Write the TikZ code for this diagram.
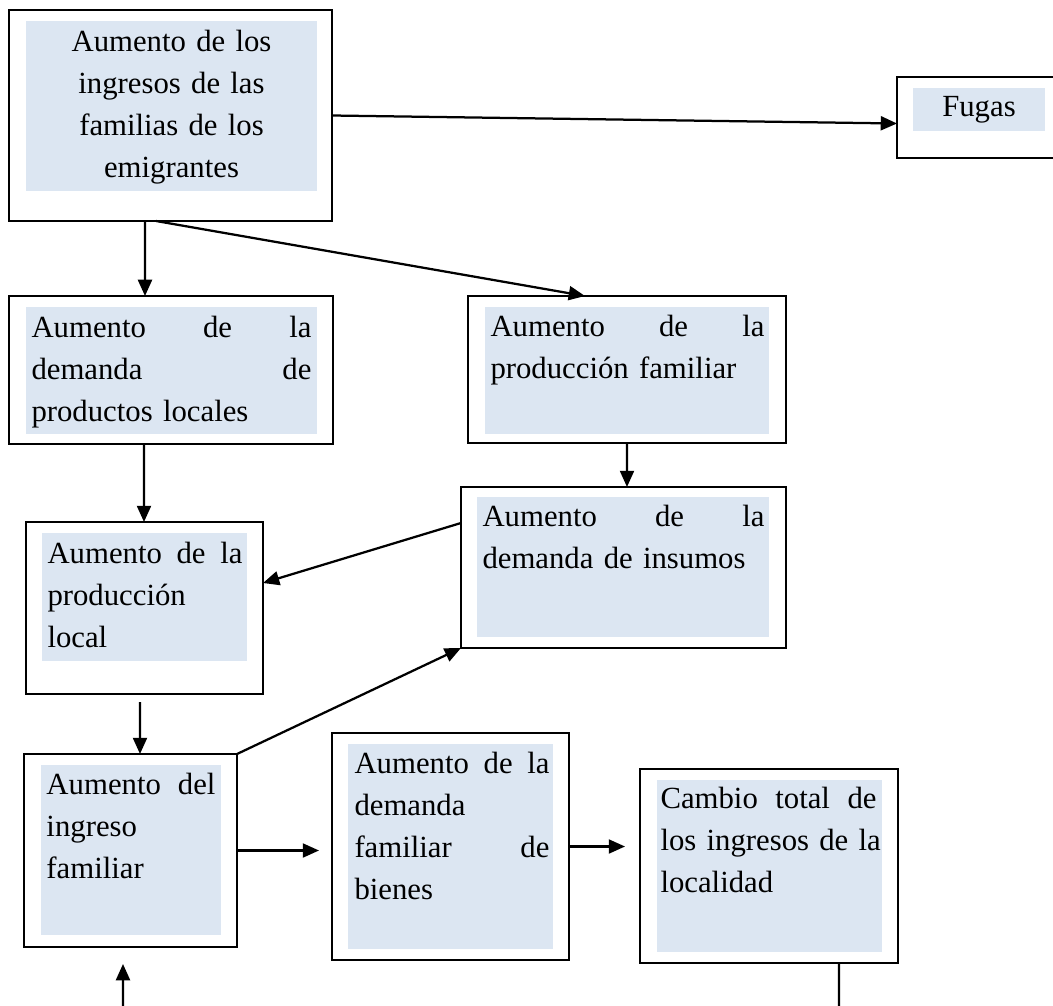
\documentclass[tikz,border=0pt]{standalone}
\usepackage{fontspec}
\setmainfont{Liberation Serif}
\usepackage{tikz}
\usetikzlibrary{calc, arrows.meta}
\definecolor{fondoazul}{HTML}{DCE6F2}

\begin{document}
\begin{tikzpicture}[
  x=0.4pt, y=-0.4pt,
  caja/.style={draw, line width=1pt, inner sep=0pt, outer sep=0pt},
  fondo/.style={fill=fondoazul},
  texto/.style={anchor=north west, inner sep=0pt, align=left, font=\fontsize{12.3}{16.8}\selectfont},
  flecha/.style={-{Triangle[length=6.5pt, width=5.6pt]}, line width=0.9pt},
  linea/.style={line width=0.9pt}
]
\useasboundingbox (0,0) rectangle (1053,1006);

% fondos azules
\fill[fondo] (26,21) rectangle (317,191);
\fill[fondo] (913,88) rectangle (1045,131);
\fill[fondo] (26,307) rectangle (317,434);
\fill[fondo] (485,307) rectangle (769,434);
\fill[fondo] (477,497) rectangle (769,637);
\fill[fondo] (42,533) rectangle (247,661);
\fill[fondo] (41,765) rectangle (221,935);
\fill[fondo] (348,744) rectangle (553,949);
\fill[fondo] (657,780) rectangle (882,952);

% cajas
\node[caja, minimum width=129.2pt, minimum height=84.4pt] (ingresos) at (170.5,115.5) {};
\node[caja, minimum width=71.2pt, minimum height=32.4pt] (fugas) at (986,117.5) {};
\node[caja, minimum width=129.6pt, minimum height=59.2pt] (demloc) at (171,370) {};
\node[caja, minimum width=127.2pt, minimum height=58.8pt] (prodfam) at (627,369.5) {};
\node[caja, minimum width=130pt, minimum height=64.4pt] (insumos) at (623.5,567.5) {};
\node[caja, minimum width=94.8pt, minimum height=68.8pt] (prodloc) at (144.5,608) {};
\node[caja, minimum width=85.2pt, minimum height=77.2pt] (ingfam) at (130.5,850.5) {};
\node[caja, minimum width=94.8pt, minimum height=90.8pt] (bienes) at (450.5,846.5) {};
\node[caja, minimum width=103.2pt, minimum height=77.6pt] (total) at (769,866) {};

% textos
\node[texto, anchor=north, align=center, text width=112pt] (t-ingresos) at (171.5,29.7)
  {Aumento de los\\ingresos de las\\familias de los\\emigrantes};
\node[texto, anchor=base] (t-fugas) at (979,117) {Fugas};
\node[texto, text width=112pt] (t-demloc) at (31,315.7)
  {Aumento\hfill de\hfill la\\demanda\hfill de\\productos locales};
\node[texto, text width=109.6pt] (t-prodfam) at (490,314.7)
  {Aumento\hfill de\hfill la\\producción familiar};
\node[texto, text width=112.8pt] (t-insumos) at (482,504.7)
  {Aumento\hfill de\hfill la\\demanda de insumos};
\node[texto, text width=78pt] (t-prodloc) at (47,541.7)
  {Aumento\hfill de\hfill la\\producción\\local};
\node[texto, text width=67.6pt] (t-ingfam) at (46,772.7)
  {Aumento\hfill del\\ingreso\\familiar};
\node[texto, text width=78pt] (t-bienes) at (354,751.7)
  {Aumento\hfill de\hfill la\\demanda\\familiar\hfill de\\bienes};
\node[texto, text width=86.4pt] (t-total) at (660,786.7)
  {Cambio\hfill total\hfill de\\\mbox{los ingresos de la}\\localidad};

\coordinate (pie) at (123,1015);
\coordinate (fin) at (839,1015);

% conectores
\draw[flecha] (ingresos.east) -- ($(fugas.west)+(0,6)$);
\draw[flecha] ($(ingresos.south west)+(136,0)$) -- ($(demloc.north west)+(136,0)$);
\draw[flecha] ($(ingresos.south west)+(147,0)$) -- ($(prodfam.north west)+(117,0)$);
\draw[flecha] ($(demloc.south west)+(135,0)$) -- ($(prodloc.north west)+(118,0)$);
\draw[flecha] ($(prodfam.south west)+(159,0)$) -- ($(insumos.north west)+(166,0)$);
\draw[flecha] ($(insumos.north west)+(0,36)$) -- ($(prodloc.east)+(0,-25)$);
\draw[flecha] ($(prodloc.south west)+(114,8)$) -- ($(ingfam.north west)+(116,0)$);
\draw[flecha] (ingfam.north east) -- (insumos.south west);
\draw[flecha, shorten >=5.2pt] (ingfam.east) -- (ingfam.east -| bienes.west);
\draw[flecha, shorten >=6pt] (bienes.east) -- (bienes.east -| total.west);
\draw[flecha] (pie) -- ($(ingfam.south west)+(99,17)$);
\draw[linea] ($(total.south west)+(199,0)$) -- (fin);
\end{tikzpicture}
\end{document}
